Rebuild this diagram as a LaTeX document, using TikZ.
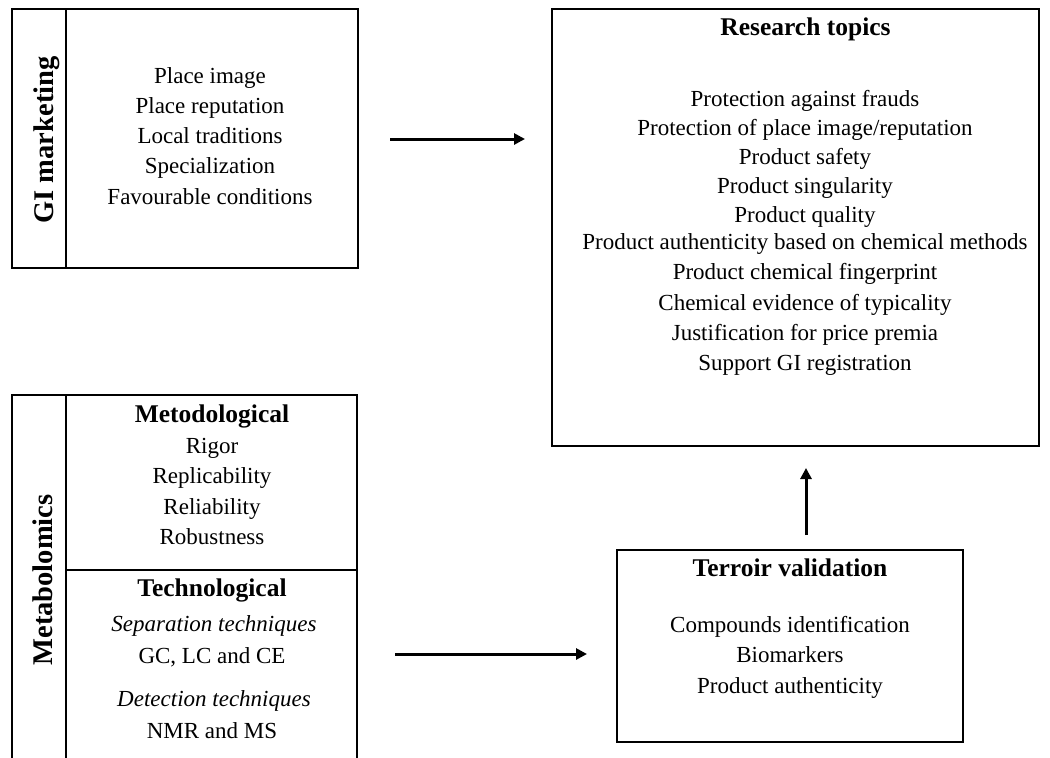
\documentclass[tikz,border=0pt]{standalone}
\usepackage{fontspec}
\setmainfont{Liberation Serif}
\usetikzlibrary{arrows.meta}
\begin{document}
\begin{tikzpicture}[x=1pt,y=-1pt,
  box/.style={draw, line width=1.8pt, inner sep=0pt},
  sep/.style={line width=1.8pt},
  ln/.style={font=\fontsize{23}{28}\selectfont, anchor=base, inner sep=0pt},
  itl/.style={font=\fontsize{23}{28}\selectfont\itshape, anchor=base, inner sep=0pt},
  head/.style={font=\fontsize{25.5}{30}\selectfont\bfseries, anchor=base, inner sep=0pt},
  side/.style={font=\fontsize{28.5}{32}\selectfont\bfseries, rotate=90, anchor=base, inner sep=0pt},
  arr/.style={line width=3pt, -{Triangle[length=11pt,width=11pt]}}]
\useasboundingbox (0,0) rectangle (1050,758);
\clip (0,0) rectangle (1050,758);

% ---------- GI marketing ----------
\node[box, minimum width=346pt, minimum height=259pt] (gi) at (185,138.5) {};
\draw[sep] ([xshift=55pt]gi.north west) -- ([xshift=55pt]gi.south west);
\node[side] (gilabel) at (53,140) {GI marketing};
\foreach \t/\y [count=\i] in {Place image/83, Place reputation/113.3, Local traditions/143.6, Specialization/173.9, Favourable conditions/204.2}
  \node[ln, name=gi\i] at (210,\y) {\t};

% ---------- Research topics ----------
\node[box, minimum width=487pt, minimum height=437pt] (rt) at (795.5,227.5) {};
\node[head] (rttitle) at (805.5,35) {Research topics};
\foreach \t/\y [count=\i] in {Protection against frauds/106, {Protection of place image/reputation}/135, Product safety/164.5, Product singularity/193.5, Product quality/222.5, Product authenticity based on chemical methods/249, Product chemical fingerprint/279.5, Chemical evidence of typicality/310, Justification for price premia/340.5, Support GI registration/370.5}
  \node[ln, name=rt\i] at (805,\y) {\t};

% ---------- Metabolomics ----------
\node[box, minimum width=345pt, minimum height=405pt] (mb) at (184.5,597.5) {};
\draw[sep] ([xshift=55pt]mb.north west) -- ([xshift=55pt]mb.south west);
\coordinate (mdl) at (67,570);
\coordinate (mdr) at (357,570);
\draw[sep] (mdl) -- (mdr);
\node[side] (mblabel) at (52,580) {Metabolomics};
\node[head] (met) at (212,422) {Metodological};
\foreach \t/\y [count=\i] in {Rigor/453, Replicability/483.5, Reliability/514, Robustness/544.5}
  \node[ln, name=met\i] at (212,\y) {\t};
\node[head] (tec) at (212,596.7) {Technological};
\node[itl] (sept) at (214,631.7) {Separation techniques};
\node[ln] (gclc) at (212,663) {GC, LC and CE};
\node[itl] (dett) at (214,706.7) {Detection techniques};
\node[ln] (nmr) at (212,738.3) {NMR and MS};

% ---------- Terroir validation ----------
\node[box, minimum width=346pt, minimum height=192pt] (tv) at (790,646) {};
\node[head] (tvtitle) at (790,576.7) {Terroir validation};
\node[ln] (tv1) at (790,632.7) {Compounds identification};
\node[ln] (tv2) at (790,662.7) {Biomarkers};
\node[ln] (tv3) at (790,693.3) {Product authenticity};

% ---------- Arrows ----------
\coordinate (a1s) at (390,139);
\coordinate (a1e) at (525,139);
\coordinate (a2s) at (395,654);
\coordinate (a2e) at (587,654);
\coordinate (a3s) at (806,535);
\coordinate (a3e) at (806,468);
\draw[arr] (a1s) -- (a1e);
\draw[arr] (a2s) -- (a2e);
\draw[arr] (a3s) -- (a3e);
\end{tikzpicture}
\end{document}
